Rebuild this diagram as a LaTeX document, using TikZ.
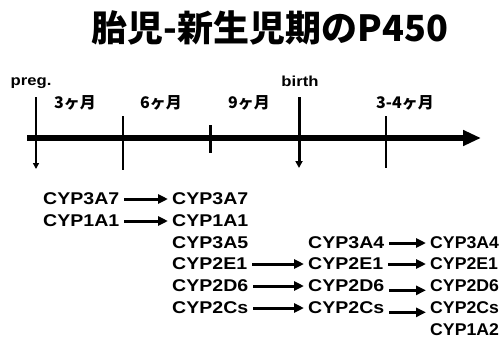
\documentclass[tikz,border=0pt]{standalone}
\usepackage{fontspec}
\usetikzlibrary{arrows.meta}
\newfontfamily\cypfont{Liberation Sans}[FakeStretch=1.15]
\newfontfamily\cypnarrow{Liberation Sans}[FakeStretch=1.04]
\newfontfamily\jpfont{Noto Sans CJK JP}
\begin{document}
\begin{tikzpicture}[x=1pt,y=-1pt,
  cyp/.style={font=\cypfont\bfseries\fontsize{17}{17}\selectfont, inner sep=0pt, anchor=west},
  cypedge/.style={cyp, font=\cypnarrow\bfseries\fontsize{17}{17}\selectfont},
  jp/.style={font=\jpfont\bfseries\fontsize{16}{16}\selectfont, inner sep=0pt},
  lab/.style={font=\cypfont\bfseries\fontsize{14.5}{14.5}\selectfont, inner sep=0pt},
  titlefont/.style={font=\jpfont\bfseries\fontsize{36}{36}\selectfont, inner sep=0pt},
  rarr/.style={line width=3pt, -{Triangle[length=10pt,width=9pt]}, shorten <=5pt, shorten >=4pt},
  tickline/.style={line width=2pt},
]
\useasboundingbox (0,0) rectangle (501,356);
\clip (0,0) rectangle (501,356);

% title
\node[titlefont] (title) at (270,28) {胎児-新生児期のP450};

% time axis
\coordinate (axL) at (27,138);
\coordinate (axR) at (481,138);
\draw[line width=6pt, -{Triangle[length=18pt,width=15pt]}] (axL) -- (axR);

% markers
\coordinate (pregT) at (36,97);  \coordinate (pregB) at (36,169);
\coordinate (sixT) at (123,116); \coordinate (sixB) at (123,170);
\coordinate (nineT) at (210,125); \coordinate (nineB) at (210,153);
\coordinate (birthT) at (299,97); \coordinate (birthB) at (299,168);
\coordinate (thrT) at (386,116); \coordinate (thrB) at (386,168);
\draw[line width=2pt, -{Triangle[length=6pt,width=6pt]}] (pregT) -- (pregB);
\draw[tickline] (sixT) -- (sixB);
\draw[line width=3pt] (nineT) -- (nineB);
\draw[line width=3pt, -{Triangle[length=7pt,width=7pt]}] (birthT) -- (birthB);
\draw[tickline] (thrT) -- (thrB);

% labels
\node[lab] (preg) at (31,83) {preg.};
\node[lab] (birth) at (300,81) {birth};
\node[jp] (m3) at (75,103) {3ヶ月};
\node[jp] (m6) at (161,103) {6ヶ月};
\node[jp] (m9) at (249,103) {9ヶ月};
\node[jp] (m34) at (405,103) {3-4ヶ月};

% enzyme rows
\def\ra{199}\def\rb{221}\def\rc{243}\def\rd{264}\def\re{286}\def\rf{308}\def\rg{330}
\node[cyp] (a1) at (43,\ra) {CYP3A7};
\node[cyp] (a2) at (172,\ra) {CYP3A7};
\node[cyp] (b1) at (43,\rb) {CYP1A1};
\node[cyp] (b2) at (172,\rb) {CYP1A1};
\node[cyp] (c2) at (172,\rc) {CYP3A5};
\node[cyp] (c3) at (308,\rc) {CYP3A4};
\node[cypedge] (c4) at (430,\rc) {CYP3A4};
\node[cyp] (d2) at (172,\rd) {CYP2E1};
\node[cyp] (d3) at (308,\rd) {CYP2E1};
\node[cypedge] (d4) at (430,\rd) {CYP2E1};
\node[cyp] (e2) at (172,\re) {CYP2D6};
\node[cyp] (e3) at (308,\re) {CYP2D6};
\node[cypedge] (e4) at (430,\re) {CYP2D6};
\node[cyp] (f2) at (172,\rf) {CYP2Cs};
\node[cyp] (f3) at (308,\rf) {CYP2Cs};
\node[cypedge] (f4) at (430,\rf) {CYP2Cs};
\node[cypedge] (g4) at (430,\rg) {CYP1A2};

\draw[rarr] (a1.east) -- (a2.west);
\draw[rarr] (b1.east) -- (b2.west);
\draw[rarr] (c3.east) -- (c4.west);
\draw[rarr] (d2.east) -- (d3.west);
\draw[rarr] (d3.east) -- (d4.west);
\draw[rarr] (e2.east) -- (e3.west);
\draw[rarr] (f2.east) -- (f3.west);
\draw[rarr] ([yshift=1.5pt]e3.base east) -- ([yshift=1.5pt]e4.base west);
\draw[rarr] ([yshift=1.5pt]f3.base east) -- ([yshift=1.5pt]f4.base west);
\end{tikzpicture}
\end{document}
